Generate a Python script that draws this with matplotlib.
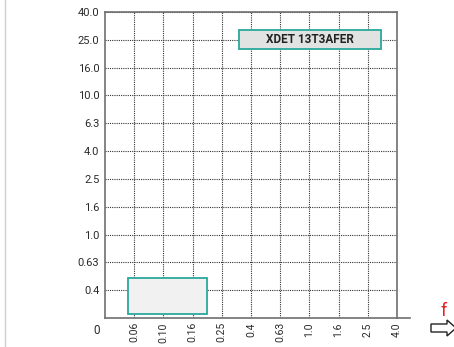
import matplotlib
matplotlib.use("Agg")
import matplotlib.pyplot as plt
from matplotlib.patches import Rectangle, Polygon
from matplotlib.lines import Line2D
from matplotlib import font_manager

names = {f.name for f in font_manager.fontManager.ttflist}
FONT = "Roboto" if "Roboto" in names else "DejaVu Sans"

x_labels = ["0.06", "0.10", "0.16", "0.25", "0.4", "0.63", "1.0", "1.6", "2.5", "4.0"]
y_labels = ["0.4", "0.63", "1.0", "1.6", "2.5", "4.0", "6.3", "10.0", "16.0", "25.0", "40.0"]
# application region (index space): x from, x to, y from, y to
region_x = [-0.2, 2.5]
region_y = [-0.85, 0.43]
tool_name = "XDET 13T3AFER"

W, H = 454, 347
fig = plt.figure(figsize=(W / 100, H / 100), dpi=100)
ax = fig.add_axes([105 / W, 1 - 318 / H, (397 - 105) / W, (318 - 12) / H])

xs = list(range(len(x_labels)))
ys = list(range(len(y_labels)))
ax.set_xlim(-1, len(x_labels) - 1)
ax.set_ylim(-1, len(y_labels) - 1)
ax.set_xticks(xs)
ax.set_xticklabels(x_labels, rotation=90, fontsize=7.5, family=FONT, color="#2a2a2a")
ax.set_yticks(ys)
ax.set_yticklabels(y_labels, fontsize=8, family=FONT, color="#2a2a2a")
ax.tick_params(axis="x", length=0, pad=3)
ax.tick_params(axis="y", length=0, pad=4)
ax.grid(True, linestyle=(0, (1, 1)), color="#333333", linewidth=0.8)
for s in ax.spines.values():
    s.set_color("#707070")
    s.set_linewidth(1.2)
ax.spines["bottom"].set_visible(False)

# extended bottom axis line
fig.add_artist(Line2D([105 / W, 410 / W], [1 - 318 / H, 1 - 318 / H],
                      transform=fig.transFigure, color="#707070", linewidth=1.2))

ax.add_patch(Rectangle((region_x[0], region_y[0]), region_x[1] - region_x[0],
                       region_y[1] - region_y[0], facecolor="#f0f1f0",
                       edgecolor="#2aa89a", linewidth=1.3, zorder=3))

# label box
fig.add_artist(Rectangle((239 / W, 1 - 49 / H), (381 - 239) / W, 19 / H,
                         transform=fig.transFigure, facecolor="#e1e2e2",
                         edgecolor="#2aa89a", linewidth=1.3, zorder=4))
fig.text((239 + 381) / 2 / W, 1 - 39.5 / H, tool_name, ha="center", va="center",
         fontsize=8.5, fontweight="bold", family=FONT, color="#222222", zorder=5)

fig.text(97 / W, 1 - 330 / H, "0", ha="center", va="center", fontsize=8.5,
         family=FONT, color="#2a2a2a")

# left border line
fig.add_artist(Line2D([4.5 / W, 4.5 / W], [0, 1], transform=fig.transFigure,
                      color="#d0d0d0", linewidth=1))

# f and arrow
fig.text(444 / W, 1 - 311 / H, "f", ha="center", va="center", fontsize=13,
         family=FONT, color="#e8202a")
pts = [(431, 324), (447, 324), (447, 320), (456, 328), (447, 336), (447, 332), (431, 332)]
fig.add_artist(Polygon([(x / W, 1 - y / H) for x, y in pts], closed=True,
                       transform=fig.transFigure, facecolor="white",
                       edgecolor="#222222", linewidth=1))

fig.savefig("out.png", dpi=100)
